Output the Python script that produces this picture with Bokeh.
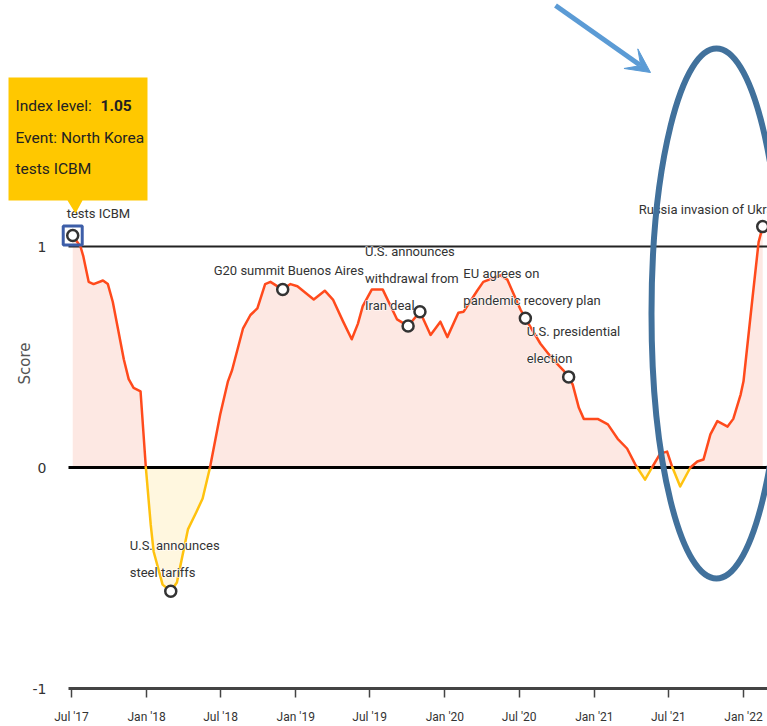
import numpy as np
import pandas as pd
from bokeh.plotting import figure
from bokeh.models import Range1d, FixedTicker, Label, Arrow, VeeHead, PolyAnnotation, ColumnDataSource, Text
from bokeh.core.properties import value
from bokeh.embed import file_html
from bokeh.resources import INLINE

# ---------------- data ----------------
dates = ["2017-07-04", "2017-07-23", "2017-07-30", "2017-08-12", "2017-08-24", "2017-09-16",
         "2017-09-28", "2017-10-10", "2017-10-24", "2017-11-06", "2017-11-18", "2017-11-30",
         "2017-12-17", "2017-12-30", "2018-01-11", "2018-01-18", "2018-02-09", "2018-03-01",
         "2018-03-16", "2018-04-12", "2018-05-03", "2018-05-18", "2018-06-05", "2018-06-30",
         "2018-07-19", "2018-07-29", "2018-08-25", "2018-09-12", "2018-09-29", "2018-10-18",
         "2018-10-31", "2018-11-30", "2018-12-19", "2019-01-05", "2019-02-14", "2019-03-13",
         "2019-04-02", "2019-04-27", "2019-05-18", "2019-06-02", "2019-06-14", "2019-07-06",
         "2019-08-02", "2019-09-06", "2019-10-03", "2019-11-01", "2019-11-27", "2019-12-21",
         "2020-01-07", "2020-02-03", "2020-02-16", "2020-03-20", "2020-04-04", "2020-05-16",
         "2020-06-02", "2020-07-04", "2020-07-16", "2020-08-22", "2020-09-21", "2020-10-17",
         "2020-10-30", "2020-11-09", "2020-11-24", "2020-12-06", "2021-01-09", "2021-02-03",
         "2021-02-27", "2021-03-22", "2021-04-11", "2021-05-05", "2021-05-22", "2021-06-11",
         "2021-06-28", "2021-07-10", "2021-07-30", "2021-08-24", "2021-09-10", "2021-09-25",
         "2021-10-12", "2021-10-29", "2021-11-23", "2021-12-07", "2021-12-25", "2022-01-01",
         "2022-01-22", "2022-02-07", "2022-02-17"]
scores = [1.05, 1.00, 0.955, 0.84, 0.83, 0.846,
          0.83, 0.75, 0.615, 0.49, 0.40, 0.36,
          0.345, 0.0, -0.26, -0.38, -0.53, -0.56,
          -0.52, -0.28, -0.20, -0.14, 0.0, 0.24,
          0.39, 0.44, 0.63, 0.69, 0.72, 0.83,
          0.84, 0.805, 0.83, 0.82, 0.76, 0.80,
          0.76, 0.66, 0.58, 0.65, 0.73, 0.805,
          0.805, 0.67, 0.64, 0.705, 0.60, 0.66,
          0.59, 0.70, 0.705, 0.80, 0.84, 0.87,
          0.85, 0.715, 0.675, 0.56, 0.49, 0.44,
          0.41, 0.375, 0.27, 0.22, 0.22, 0.195,
          0.13, 0.086, 0.014, -0.055, 0.0, 0.063,
          0.072, 0.005, -0.086, 0.0, 0.027, 0.036,
          0.15, 0.21, 0.185, 0.22, 0.33, 0.39,
          0.75, 1.02, 1.09]

event_dates = ["2017-07-04", "2018-03-01", "2018-11-30", "2019-10-03", "2019-11-01",
               "2020-07-16", "2020-10-30", "2022-02-17"]
event_scores = [1.05, -0.56, 0.805, 0.64, 0.705, 0.675, 0.41, 1.09]
event_labels = ["tests ICBM", "U.S. announces\nsteel tariffs", "G20 summit Buenos Aires", "",
                "U.S. announces\nwithdrawal from\nIran deal", "EU agrees on\npandemic recovery plan",
                "U.S. presidential\nelection", "Russia invasion of Ukraine"]

tick_dates = ["2017-07-01", "2018-01-01", "2018-07-01", "2019-01-01", "2019-07-01",
              "2020-01-01", "2020-07-01", "2021-01-01", "2021-07-01", "2022-01-01"]
tick_labels = ["Jul '17", "Jan '18", "Jul '18", "Jan '19", "Jul '19",
               "Jan '20", "Jul '20", "Jan '21", "Jul '21", "Jan '22"]
y_ticks = [-1, 0, 1]
y_tick_labels = ["-1", "0", "1"]
ref_levels = [1, 0]

# label offsets in screen pixels (layout only): left edge and block centre vs. marker
label_dx = [-6, -41, -69, 0, -55, -62, -42, -124]
label_dy = [-22, -32, -19, 0, -33, -31, -32, -17]

# ---------------- helpers ----------------
def ms(d):
    return pd.Timestamp(d).value / 1e6

T0 = pd.Timestamp("2017-07-01")
PX_PER_DAY = 672 / 1645.0
DAY_MS = 86400000.0


def sx(px):
    return ms(T0) + (px - 71) / PX_PER_DAY * DAY_MS


def sy(py):
    return (467 - py) / 221.0


t = np.array([ms(d) for d in dates])
v = np.array(scores, dtype=float)

# insert zero crossings so the sign colouring is clean
xs, ys = [t[0]], [v[0]]
for i in range(1, len(v)):
    if v[i - 1] * v[i] < 0:
        f = v[i - 1] / (v[i - 1] - v[i])
        xs.append(t[i - 1] + f * (t[i] - t[i - 1]))
        ys.append(0.0)
    xs.append(t[i])
    ys.append(v[i])
xs = np.array(xs)
ys = np.array(ys)

RED = "#ff4a1c"
YEL = "#ffc20e"

# group line segments by sign
runs = []
cur_x, cur_y, cur_c = [xs[0]], [ys[0]], None
for j in range(len(xs) - 1):
    c = RED if (ys[j] + ys[j + 1]) >= 0 else YEL
    if cur_c is None:
        cur_c = c
    if c != cur_c:
        runs.append((cur_x, cur_y, cur_c))
        cur_x, cur_y, cur_c = [xs[j]], [ys[j]], c
    cur_x.append(xs[j + 1])
    cur_y.append(ys[j + 1])
runs.append((cur_x, cur_y, cur_c))

FONT_NAME = "Roboto"
FONT = value(FONT_NAME)

AX_LEFT = sx(68)
AX_RIGHT = sx(767)

p = figure(width=767, height=726, x_axis_type="datetime",
           x_range=Range1d(sx(0), sx(767)), y_range=Range1d(sy(726), sy(0)),
           output_backend="svg", toolbar_location=None,
           min_border_left=0, min_border_right=0, min_border_top=0, min_border_bottom=0,
           background_fill_color="white", border_fill_color="white", outline_line_color=None)

p.xgrid.visible = False
p.ygrid.visible = False

# fills
p.varea(x=xs, y1=0, y2=np.maximum(ys, 0), fill_color="#fde8e3")
p.varea(x=xs, y1=np.minimum(ys, 0), y2=0, fill_color="#fff7df")

# reference lines at 1 and 0
p.segment(x0=[AX_LEFT, AX_LEFT], y0=ref_levels, x1=[AX_RIGHT, AX_RIGHT], y1=ref_levels,
          line_color=["#222222", "#000000"], line_width=[2, 3])

# the index line
p.multi_line(xs=[r[0] for r in runs], ys=[r[1] for r in runs], line_color=[r[2] for r in runs],
             line_width=2.5, line_join="round", line_cap="round")

# event labels (white halo underneath, dark text on top)
ev = ColumnDataSource(dict(x=[ms(d) for d in event_dates], y=event_scores, text=event_labels,
                           dx=label_dx, dy=label_dy))
txt = dict(x="x", y="y", text="text", x_offset="dx", y_offset="dy", source=ev,
           text_font=FONT, text_font_size="13px", text_align="left", text_baseline="middle",
           text_line_height=1.8)
halo = dict(text_color="white", text_outline_color="white")
if "text_outline_width" in Text.properties():
    halo["text_outline_width"] = 4
p.text(**halo, **txt)
p.text(text_color="#333333", **txt)

# selected highlight and event markers
p.scatter(x=[ms(event_dates[0])], y=[event_scores[0]], marker="square", size=19,
          fill_color=None, line_color="#3d5ea8", line_width=3)
p.scatter(x="x", y="y", source=ev, marker="circle", size=11, fill_color="white",
          line_color="#333333", line_width=2.5)

# axes (fixed at the data edges so the tooltip can sit left of the y axis)
p.xaxis.fixed_location = -1
p.xaxis.ticker = FixedTicker(ticks=[ms(d) for d in tick_dates])
p.xaxis.major_label_overrides = {ms(d): lab for d, lab in zip(tick_dates, tick_labels)}
p.xaxis.bounds = (AX_LEFT, AX_RIGHT)
p.xaxis.axis_line_color = "#444444"
p.xaxis.axis_line_width = 3
p.xaxis.major_tick_line_color = "#444444"
p.xaxis.major_tick_line_width = 1.5
p.xaxis.major_tick_out = 9
p.xaxis.major_tick_in = 0
p.xaxis.minor_tick_line_color = None
p.xaxis.major_label_standoff = 12
p.xaxis.major_label_text_font = FONT_NAME
p.xaxis.major_label_text_font_size = "12px"
p.xaxis.major_label_text_color = "#333333"

p.yaxis.fixed_location = AX_LEFT
p.yaxis.ticker = FixedTicker(ticks=y_ticks)
p.yaxis.major_label_overrides = {tk: lab for tk, lab in zip(y_ticks, y_tick_labels)}
p.yaxis.axis_line_color = None
p.yaxis.major_tick_line_color = None
p.yaxis.minor_tick_line_color = None
p.yaxis.major_label_standoff = 16
p.yaxis.major_label_text_font = "DejaVu Sans"
p.yaxis.major_label_text_font_size = "14px"
p.yaxis.major_label_text_color = "#333333"
p.yaxis.axis_label = "Score"
p.yaxis.axis_label_text_font = "DejaVu Sans"
p.yaxis.axis_label_text_font_size = "15px"
p.yaxis.axis_label_text_font_style = "normal"
p.yaxis.axis_label_text_color = "#555555"
p.yaxis.axis_label_standoff = -4

# highlight ellipse and arrow
p.ellipse(x=[sx(716)], y=[sy(313)], width=130 / PX_PER_DAY * DAY_MS, height=530 / 221.0,
          fill_color=None, line_color="#41719c", line_width=6)
p.add_layout(Arrow(x_start=sx(555), y_start=sy(5), x_end=sx(650), y_end=sy(72),
                   line_color="#5b9bd5", line_width=5,
                   end=VeeHead(size=24, fill_color="#5b9bd5", line_color="#5b9bd5")))

# tooltip
p.add_layout(PolyAnnotation(xs=[sx(8), sx(147), sx(147), sx(82), sx(75), sx(67), sx(8)],
                            ys=[sy(77), sy(77), sy(200), sy(200), sy(213), sy(200), sy(200)],
                            fill_color="#ffc800", fill_alpha=1, line_color=None))
tip_style = dict(text_font=FONT_NAME, text_font_size="15.5px", text_color="#222222", text_baseline="middle")
p.add_layout(Label(x=sx(15), y=sy(105), text="Index level:", **tip_style))
p.add_layout(Label(x=sx(100), y=sy(105), text="1.05", text_font_style="bold", **tip_style))
p.add_layout(Label(x=sx(15), y=sy(137), text="Event: North Korea", **tip_style))
p.add_layout(Label(x=sx(15), y=sy(168), text="tests ICBM", **tip_style))

open("out.html", "w").write(file_html(p, INLINE))
